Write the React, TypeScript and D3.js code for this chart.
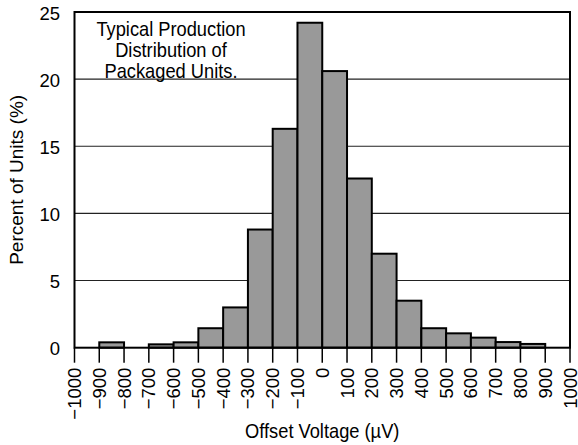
import React from "react";
import * as d3 from "d3";

const binStarts = [-1000, -900, -800, -700, -600, -500, -400, -300, -200, -100, 0, 100, 200, 300, 400, 500, 600, 700, 800, 900];
const percents = [0, 0.4, 0, 0.25, 0.4, 1.45, 3.0, 8.8, 16.3, 24.2, 20.6, 12.6, 7.0, 3.5, 1.45, 1.07, 0.75, 0.42, 0.28, 0];
const binWidth = 100;
const xTicks = [-1000, -900, -800, -700, -600, -500, -400, -300, -200, -100, 0, 100, 200, 300, 400, 500, 600, 700, 800, 900, 1000];
const yTicks = [0, 5, 10, 15, 20, 25];
const gridValues = [5, 10, 15, 20];
const noteLines = ["Typical Production", "Distribution of", "Packaged Units."];
const xTitle = "Offset Voltage (\u00B5V)";
const yTitle = "Percent of Units (%)";

const W = 578;
const H = 445;
const L = 74.5, R = 570, T = 12, B = 347.7;
const FONT = "'Liberation Sans', Arial, Helvetica, sans-serif";

function fmt(v: number) {
  return v < 0 ? "\u2212" + Math.abs(v) : String(v);
}

export default function App() {
  const x = d3.scaleLinear().domain([-1000, 1000]).range([L, R]);
  const y = d3.scaleLinear().domain([0, 25]).range([B, T]);
  const sx = 0.87;

  return (
    <svg width={W} height={H} style={{ position: "absolute", left: 0, top: 0, background: "#fff" }} fontFamily={FONT}>
      {gridValues.map((g) => (
        <line key={g} x1={L} x2={R} y1={y(g)} y2={y(g)} stroke="#222" strokeWidth={1.1} />
      ))}
      {binStarts.map((s, i) =>
        percents[i] > 0 ? (
          <rect
            key={s}
            x={x(s)}
            y={y(percents[i])}
            width={x(s + binWidth) - x(s)}
            height={B - y(percents[i])}
            fill="#999999"
            stroke="#000"
            strokeWidth={2}
          />
        ) : null
      )}
      <rect x={L} y={T} width={R - L} height={B - T} fill="none" stroke="#000" strokeWidth={2} />
      {xTicks.map((t) => (
        <g key={t}>
          <line x1={x(t)} x2={x(t)} y1={B} y2={B + 15} stroke="#000" strokeWidth={1.5} />
          <text
            transform={`translate(${x(t) + 6.5},${B + 20}) rotate(-90)`}
            textAnchor="end"
            fontSize={18.5}
            fill="#000"
          >
            {fmt(t)}
          </text>
        </g>
      ))}
      {yTicks.map((t) => (
        <text key={t} x={60} y={y(t) + 7.5} textAnchor="end" fontSize={18.5} fill="#000">
          {t}
        </text>
      ))}
      <text transform={`translate(23,${(T + B) / 2}) scale(0.92,1) rotate(-90)`} textAnchor="middle" fontSize={19} fill="#000">
        {yTitle}
      </text>
      <text transform={`translate(${(L + R) / 2},438) scale(${sx},1)`} textAnchor="middle" fontSize={21} fill="#000">
        {xTitle}
      </text>
      {noteLines.map((ln, i) => (
        <text key={i} transform={`translate(171,${36.3 + i * 20.9}) scale(${sx},1)`} textAnchor="middle" fontSize={21} fill="#000">
          {ln}
        </text>
      ))}
    </svg>
  );
}
